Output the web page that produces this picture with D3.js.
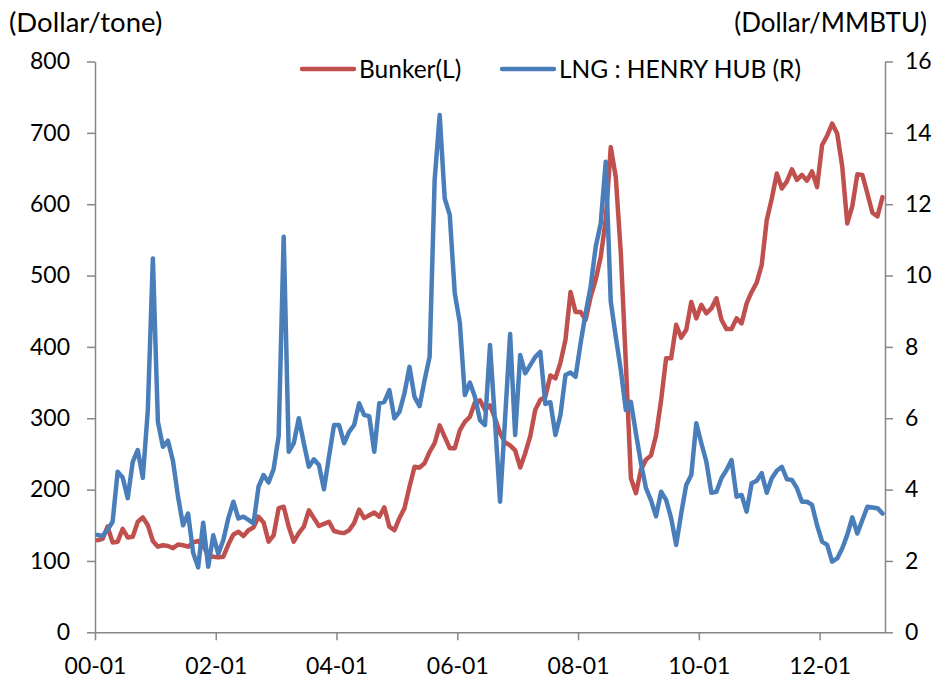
<!DOCTYPE html>
<meta charset="utf-8">
<html>
  <head>
    <script src="https://d3js.org/d3.v7.min.js"></script>
    <style>
      body { margin: 0; background: #fff; }
      svg text { font-family: Lato, "Noto Sans", sans-serif; fill: #000; }
      .axis text { font-size: 23px; }
      .title { font-size: 26px; }
      .title.left { font-size: 27.5px; }
      .legend text { font-size: 24.5px; }
      .axis path, .axis line { stroke: #868686; stroke-width: 1.5px; }
      .line { fill: none; stroke-width: 4.5px; stroke-linejoin: round; stroke-linecap: round; }
    </style>
  </head>
  <body>
    <svg id="chart" width="936" height="680"></svg>
    <script>
      // monthly values, 2000-01 .. 2013-01
      const bunker = [129,131,148,126,127,145,133,134,155,161, 150,128,120,122,121,118,123,122,120,126,
        128,122,107,106,105,106,123,137,141,135, 143,147,162,154,127,136,174,176,148,127,
        139,148,171,160,149,152,155,142,140,139, 143,153,172,160,164,168,162,175,148,143,
        160,174,204,232,231,237,253,265,290,274, 258,258,283,295,302,322,325,312,318,300,
        279,266,262,255,231,251,275,312,326,330, 360,356,378,410,477,449,449,438,470,494,
        526,578,680,638,531,377,216,195,228,242, 248,276,325,384,384,431,413,424,463,440,
        459,447,454,468,438,425,425,440,433,461, 477,490,515,578,608,643,622,632,649,634,
        641,633,646,624,683,696,713,699,653,573, 597,642,641,615,588,583,610];

      const henryHub = [2.73,2.70,2.87,3.10,4.50,4.34,3.76,4.78,5.11,4.33, 6.23,10.48,5.90,5.20,5.37,4.80,3.80,3.00,3.33,2.23,
        1.82,3.07,1.84,2.72,2.20,2.59,3.20,3.66,3.19,3.24, 3.15,3.05,4.08,4.41,4.20,4.58,5.50,11.09,5.06,5.30,
        6.00,5.30,4.64,4.85,4.69,4.01,4.92,5.81,5.81,5.30, 5.62,5.81,6.42,6.09,6.06,5.06,6.42,6.46,6.79,6.00,
        6.18,6.70,7.44,6.60,6.34,7.07,7.72,12.68,14.50,12.16, 11.70,9.50,8.68,6.65,7.00,6.60,5.95,5.81,8.05,5.90,
        3.66,6.00,8.36,5.53,7.77,7.26,7.49,7.72,7.86,6.40, 6.45,5.53,6.09,7.21,7.28,7.16,8.10,8.94,9.69,10.80,
        11.46,13.19,9.27,8.28,7.35,6.23,6.46,5.58,4.74,4.04, 3.70,3.25,3.94,3.71,3.20,2.45,3.33,4.13,4.41,5.86,
        5.30,4.78,3.91,3.94,4.32,4.55,4.83,3.80,3.85,3.38, 4.18,4.25,4.46,3.91,4.32,4.53,4.64,4.29,4.27,4.04,
        3.66,3.66,3.57,3.00,2.54,2.45,1.98,2.07,2.35,2.73, 3.22,2.77,3.15,3.52,3.50,3.48,3.33];

      const xTickLabels = ["00-01", "02-01", "04-01", "06-01", "08-01", "10-01", "12-01"];
      const leftTicks = [0, 100, 200, 300, 400, 500, 600, 700, 800];
      const rightTicks = [0, 2, 4, 6, 8, 10, 12, 14, 16];

      const plotL = 95, plotR = 885, plotT = 61.5, plotB = 632.3;
      const svg = d3.select("#chart");

      const x = d3.scaleLinear().domain([0, bunker.length]).range([plotL, plotR]);
      const yL = d3.scaleLinear().domain([0, 800]).range([plotB, plotT]);
      const yR = d3.scaleLinear().domain([0, 16]).range([plotB, plotT]);

      // axes
      svg.append("g").attr("class", "axis")
        .attr("transform", `translate(0,${plotB})`)
        .call(d3.axisBottom(x)
          .tickValues(xTickLabels.map((d, i) => i * 24))
          .tickFormat((d, i) => xTickLabels[i])
          .tickSize(8).tickSizeOuter(0).tickPadding(17))
        .call(g => g.selectAll("text").attr("font-size", null).attr("font-family", null));

      svg.append("g").attr("class", "axis")
        .attr("transform", `translate(${plotL},0)`)
        .call(d3.axisLeft(yL).tickValues(leftTicks).tickSize(8).tickSizeOuter(0).tickPadding(17))
        .call(g => g.selectAll("text").attr("font-size", null).attr("font-family", null));

      svg.append("g").attr("class", "axis")
        .attr("transform", `translate(${plotR},0)`)
        .call(d3.axisRight(yR).tickValues(rightTicks).tickSize(8).tickSizeOuter(0).tickPadding(12))
        .call(g => g.selectAll("text").attr("font-size", null).attr("font-family", null));

      // lines, points sit in the middle of each month slot
      const lineL = d3.line().x((d, i) => x(i + 0.5)).y(d => yL(d));
      const lineR = d3.line().x((d, i) => x(i + 0.5)).y(d => yR(d));

      svg.append("path").datum(bunker).attr("class", "line")
        .attr("stroke", "#C0504D").attr("d", lineL);
      svg.append("path").datum(henryHub).attr("class", "line")
        .attr("stroke", "#4A7EBB").attr("d", lineR);

      // unit titles
      svg.append("text").attr("class", "title left").attr("x", 9).attr("y", 32).text("(Dollar/tone)");
      svg.append("text").attr("class", "title").attr("x", 927).attr("y", 32)
        .attr("text-anchor", "end").text("(Dollar/MMBTU)");

      // legend
      const legend = [
        {name: "Bunker(L)", color: "#C0504D", x: 302},
        {name: "LNG : HENRY HUB (R)", color: "#4A7EBB", x: 502}
      ];
      const lg = svg.append("g").attr("class", "legend")
        .selectAll("g").data(legend).enter().append("g")
        .attr("transform", d => `translate(${d.x},69)`);
      lg.append("line").attr("x1", 0).attr("x2", 52)
        .attr("stroke", d => d.color).attr("stroke-width", 4.5).attr("stroke-linecap", "round");
      lg.append("text").attr("x", 57).attr("y", 8.5).text(d => d.name);
    </script>
  </body>
</html>
